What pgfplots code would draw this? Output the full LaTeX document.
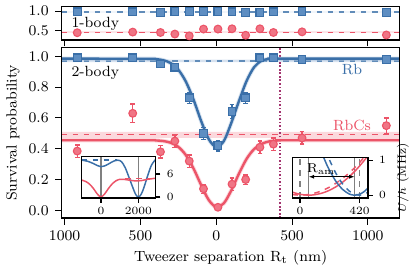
\documentclass[border=0pt]{standalone}
\usepackage{pgfplots}
\pgfplotsset{compat=1.18}
\usepackage{pgfplotstable}
\usetikzlibrary{arrows.meta}
\definecolor{cb}{HTML}{3A6FA8}
\definecolor{cbf}{HTML}{5E8EC2}
\definecolor{cbl}{HTML}{AFC6E0}
\definecolor{cr}{HTML}{EC5468}
\definecolor{crf}{HTML}{F07585}
\definecolor{crl}{HTML}{F8BFC7}
\definecolor{cp}{HTML}{A3336F}

\pgfplotstableread{
x y e
-917 0.984 0.012
-551 0.984 0.012
-368 0.965 0.015
-273 1.0 0.01
-178 1.0 0.01
-84 1.0 0.01
11 1.0 0.01
104 0.984 0.012
194 0.97 0.015
288 0.97 0.015
377 0.984 0.012
566 1.0 0.01
1122 0.96 0.015
}\bluetop
\pgfplotstableread{
x y e
-917 0.453 0.03
-551 0.47 0.03
-368 0.46 0.035
-273 0.42 0.03
-178 0.373 0.03
-84 0.547 0.03
11 0.547 0.03
104 0.554 0.035
194 0.39 0.03
288 0.554 0.03
377 0.46 0.03
566 0.476 0.03
1122 0.397 0.03
}\redtop
\pgfplotstableread{
x y e
-917 0.99 0.01
-551 0.99 0.01
-368 0.95 0.015
-273 0.93 0.02
-178 0.73 0.035
-84 0.50 0.04
11 0.42 0.035
104 0.64 0.045
194 0.73 0.035
288 0.99 0.01
377 0.99 0.01
566 0.98 0.01
1122 0.98 0.01
}\bluemain
\pgfplotstableread{
x y e
-917 0.385 0.04
-551 0.63 0.06
-368 0.38 0.04
-273 0.45 0.04
-178 0.32 0.04
-84 0.14 0.03
11 0.02 0.01
104 0.17 0.04
194 0.20 0.03
288 0.41 0.04
377 0.43 0.04
566 0.47 0.04
1122 0.55 0.05
}\redmain

\pgfplotsset{
  myax/.style={scale only axis, axis line style={line width=0.8pt}, tick style={black, line width=0.6pt},
    major tick length=3.5pt, tick align=outside, axis on top,
    /pgf/number format/1000 sep={},
    tick label style={font=\fontsize{8}{9}\selectfont}, label style={font=\fontsize{8}{9}\selectfont}},
  bmark/.style={only marks, mark=square*, mark size=2.1pt, mark options={fill=cbf, draw=cb, line width=0.6pt},
    error bars/.cd, y dir=both, y explicit, error bar style={line width=0.7pt, cb},
    error mark options={rotate=90, mark size=1.3pt, line width=0.7pt, cb}},
  rmark/.style={only marks, mark=*, mark size=2.1pt, mark options={fill=crf, draw=cr, line width=0.6pt},
    error bars/.cd, y dir=both, y explicit, error bar style={line width=0.7pt, cr},
    error mark options={rotate=90, mark size=1.3pt, line width=0.7pt, cr}},
  inax/.style={myax, axis background/.style={fill=white}, major tick length=2.5pt,
    tick label style={font=\fontsize{6}{7}\selectfont}, label style={font=\fontsize{6.5}{7}\selectfont},
    xtick pos=bottom, ytick pos=right, yticklabel pos=right, xticklabel style={yshift=1pt}},
}

\begin{document}
\begin{tikzpicture}[font=\fontsize{8}{9}\selectfont]
% ---------------- main (2-body) ----------------
\begin{axis}[myax, at={(0,0)}, anchor=south west, width=183pt, height=92.2pt,
  xmin=-1020, xmax=1210, ymin=-0.05, ymax=1.056,
  xtick={-1000,-500,0,500,1000}, xticklabels={1000,500,0,500,1000},
  ytick={0,0.2,0.4,0.6,0.8,1.0},
  yticklabels={0.0,0.2,0.4,0.6,0.8,1.0},
  xtick pos=bottom, ytick pos=left,
  xlabel={Tweezer separation R$_\mathrm{t}$ (nm)}, ylabel={Survival probability},
  ylabel style={yshift=-2pt}, xlabel style={yshift=2pt}]
\addplot[draw=none, fill=cbl, fill opacity=0.5] coordinates {(-1020,0.962) (1210,0.962) (1210,0.978) (-1020,0.978) (-1020,0.962)};
\addplot[cb!80, dashed, line width=0.6pt] coordinates {(-1020,0.97) (1210,0.97)};
\addplot[draw=none, fill=crl, fill opacity=0.6] coordinates {(-1020,0.47) (1210,0.47) (1210,0.51) (-1020,0.51) (-1020,0.47)};
\addplot[cr, dashed, line width=0.6pt] coordinates {(-1020,0.49) (1210,0.49)};
\addplot[cp, densely dotted, line width=0.9pt] coordinates {(420,-0.05) (420,1.056)};
% blue fit
\addplot[cbl, line width=2.3pt, smooth, opacity=0.5] coordinates {(-1020,0.985) (-450,0.984) (-400,0.982) (-350,0.975) (-300,0.956) (-250,0.913) (-200,0.835) (-150,0.719) (-100,0.581) (-50,0.463) (0,0.411) (50,0.45) (100,0.57) (150,0.71) (200,0.84) (250,0.93) (300,0.972) (350,0.983) (400,0.985) (1210,0.985)};
\addplot[cb, line width=1.3pt, smooth] coordinates {(-1020,0.985) (-450,0.984) (-400,0.982) (-350,0.975) (-300,0.956) (-250,0.913) (-200,0.835) (-150,0.719) (-100,0.581) (-50,0.463) (0,0.411) (50,0.45) (100,0.57) (150,0.71) (200,0.84) (250,0.93) (300,0.972) (350,0.983) (400,0.985) (1210,0.985)};
% red fit
\addplot[crl, line width=2.3pt, smooth, opacity=0.6] coordinates {(-1020,0.455) (-450,0.455) (-400,0.454) (-350,0.450) (-300,0.439) (-250,0.412) (-200,0.358) (-150,0.272) (-100,0.165) (-50,0.068) (0,0.021) (50,0.046) (100,0.131) (150,0.239) (200,0.334) (250,0.398) (300,0.432) (350,0.448) (400,0.453) (450,0.455) (1210,0.455)};
\addplot[cr, line width=1.3pt, smooth] coordinates {(-1020,0.455) (-450,0.455) (-400,0.454) (-350,0.450) (-300,0.439) (-250,0.412) (-200,0.358) (-150,0.272) (-100,0.165) (-50,0.068) (0,0.021) (50,0.046) (100,0.131) (150,0.239) (200,0.334) (250,0.398) (300,0.432) (350,0.448) (400,0.453) (450,0.455) (1210,0.455)};
\addplot[bmark] table[x=x, y=y, y error=e] {\bluemain};
\addplot[rmark] table[x=x, y=y, y error=e] {\redmain};
\node[anchor=west] at (rel axis cs:0.01,0.854) {2-body};
\node[cb] at (axis cs:895,0.913) {Rb};
\node[cr] at (axis cs:895,0.553) {RbCs};
\end{axis}
% ---------------- top (1-body) ----------------
\begin{axis}[myax, at={(0,96.4pt)}, anchor=south west, width=183pt, height=18.1pt,
  xmin=-1020, xmax=1210, ymin=0.27, ymax=1.12,
  xtick={-1000,-500,0,500,1000}, xticklabels={},
  ytick={0.5,1.0}, yticklabels={0.5,1.0},
  xtick pos=bottom, ytick pos=left]
\addplot[draw=none, fill=cbl, fill opacity=0.5] coordinates {(-1020,0.972) (1210,0.972) (1210,0.988) (-1020,0.988) (-1020,0.972)};
\addplot[cb!80, dashed, line width=0.6pt] coordinates {(-1020,0.98) (1210,0.98)};
\addplot[draw=none, fill=crl, fill opacity=0.6] coordinates {(-1020,0.455) (1210,0.455) (1210,0.485) (-1020,0.485) (-1020,0.455)};
\addplot[cr, dashed, line width=0.6pt] coordinates {(-1020,0.47) (1210,0.47)};
\addplot[bmark] table[x=x, y=y, y error=e] {\bluetop};
\addplot[rmark] table[x=x, y=y, y error=e] {\redtop};
\node[anchor=west] at (rel axis cs:0.01,0.49) {1-body};
\end{axis}
% ---------------- left inset ----------------
\begin{axis}[inax, at={(10.9pt,10.9pt)}, anchor=south west, width=40pt, height=22.3pt,
  xmin=-1026, xmax=2923, ymin=-0.25, ymax=10.5, xtick={0,2000}, ytick={0,6}]
\addplot[gray, line width=0.7pt] coordinates {(0,-0.25) (0,10.5)};
\addplot[gray, line width=0.7pt] coordinates {(2000,-0.25) (2000,10.5)};
\addplot[cb, dashed, line width=0.8pt] coordinates {(-1026,9.7) (880,9.7)};
\addplot[cb, line width=0.8pt, smooth] coordinates {(-1026,9.6) (-700,9.3) (-400,8.7) (-200,8.2) (0,7.9) (200,8.1) (400,8.6) (700,9.4) (900,9.6) (1100,9.2) (1300,7.6) (1500,5.1) (1700,2.5) (1850,0.7) (2000,0) (2150,0.7) (2300,2.5) (2500,5.6) (2700,8.3) (2923,9.8)};
\addplot[cr, dashed, line width=0.8pt] coordinates {(1300,4.75) (2923,4.75)};
\addplot[cr, line width=0.8pt, smooth] coordinates {(-1026,4.4) (-800,4.0) (-600,3.3) (-400,2.2) (-200,0.8) (0,0) (200,0.8) (400,2.2) (600,3.4) (800,4.2) (1000,4.6) (1200,4.6) (1500,4.4) (1800,4.2) (2000,4.2) (2200,4.3) (2500,4.6) (2923,4.9)};
\end{axis}
% ---------------- right inset ----------------
\begin{axis}[inax, at={(124.9pt,10.9pt)}, anchor=south west, width=41pt, height=21.8pt,
  xmin=-54, xmax=481, ymin=-0.08, ymax=1.08, xtick={0,420}, ytick={0,1},
  ylabel={$U/h$ (MHz)}, ylabel style={yshift=1pt}, clip=true]
\addplot[gray, dashed, line width=0.7pt] coordinates {(0,-0.08) (0,1.08)};
\addplot[gray, dashed, line width=0.7pt] coordinates {(420,-0.08) (420,1.08)};
\addplot[gray, line width=0.7pt] coordinates {(61,-0.08) (61,1.08)};
\addplot[gray, line width=0.7pt] coordinates {(386,-0.08) (386,1.08)};
\addplot[cr, line width=0.8pt, smooth] coordinates {(-54,0.086) (0,0.024) (61,0) (100,0.010) (150,0.051) (200,0.125) (250,0.231) (300,0.370) (350,0.541) (400,0.744) (450,0.980) (481,1.142)};
\addplot[cr, dashed, line width=0.8pt, smooth] coordinates {(-54,0.016) (0,0) (50,0.013) (100,0.053) (150,0.119) (200,0.212) (250,0.332) (300,0.478) (350,0.650) (400,0.849) (450,1.075) (481,1.228)};
\addplot[cb, line width=0.8pt, smooth] coordinates {(150,1.263) (176,1.0) (200,0.784) (250,0.419) (300,0.168) (350,0.029) (386,0) (420,0.026) (450,0.093) (481,0.205)};
\addplot[cb, dashed, line width=0.8pt, smooth] coordinates {(180,1.306) (210,1.0) (250,0.655) (300,0.327) (350,0.111) (400,0.009) (420,0) (450,0.020) (481,0.084)};
\addplot[black, line width=0.8pt, {Latex[length=3pt]}-{Latex[length=3pt]}] coordinates {(61,0.53) (386,0.53)};
\node[font=\fontsize{7}{8}\selectfont] at (axis cs:150,0.76) {R$_\mathrm{am}$};
\end{axis}
\end{tikzpicture}
\end{document}
